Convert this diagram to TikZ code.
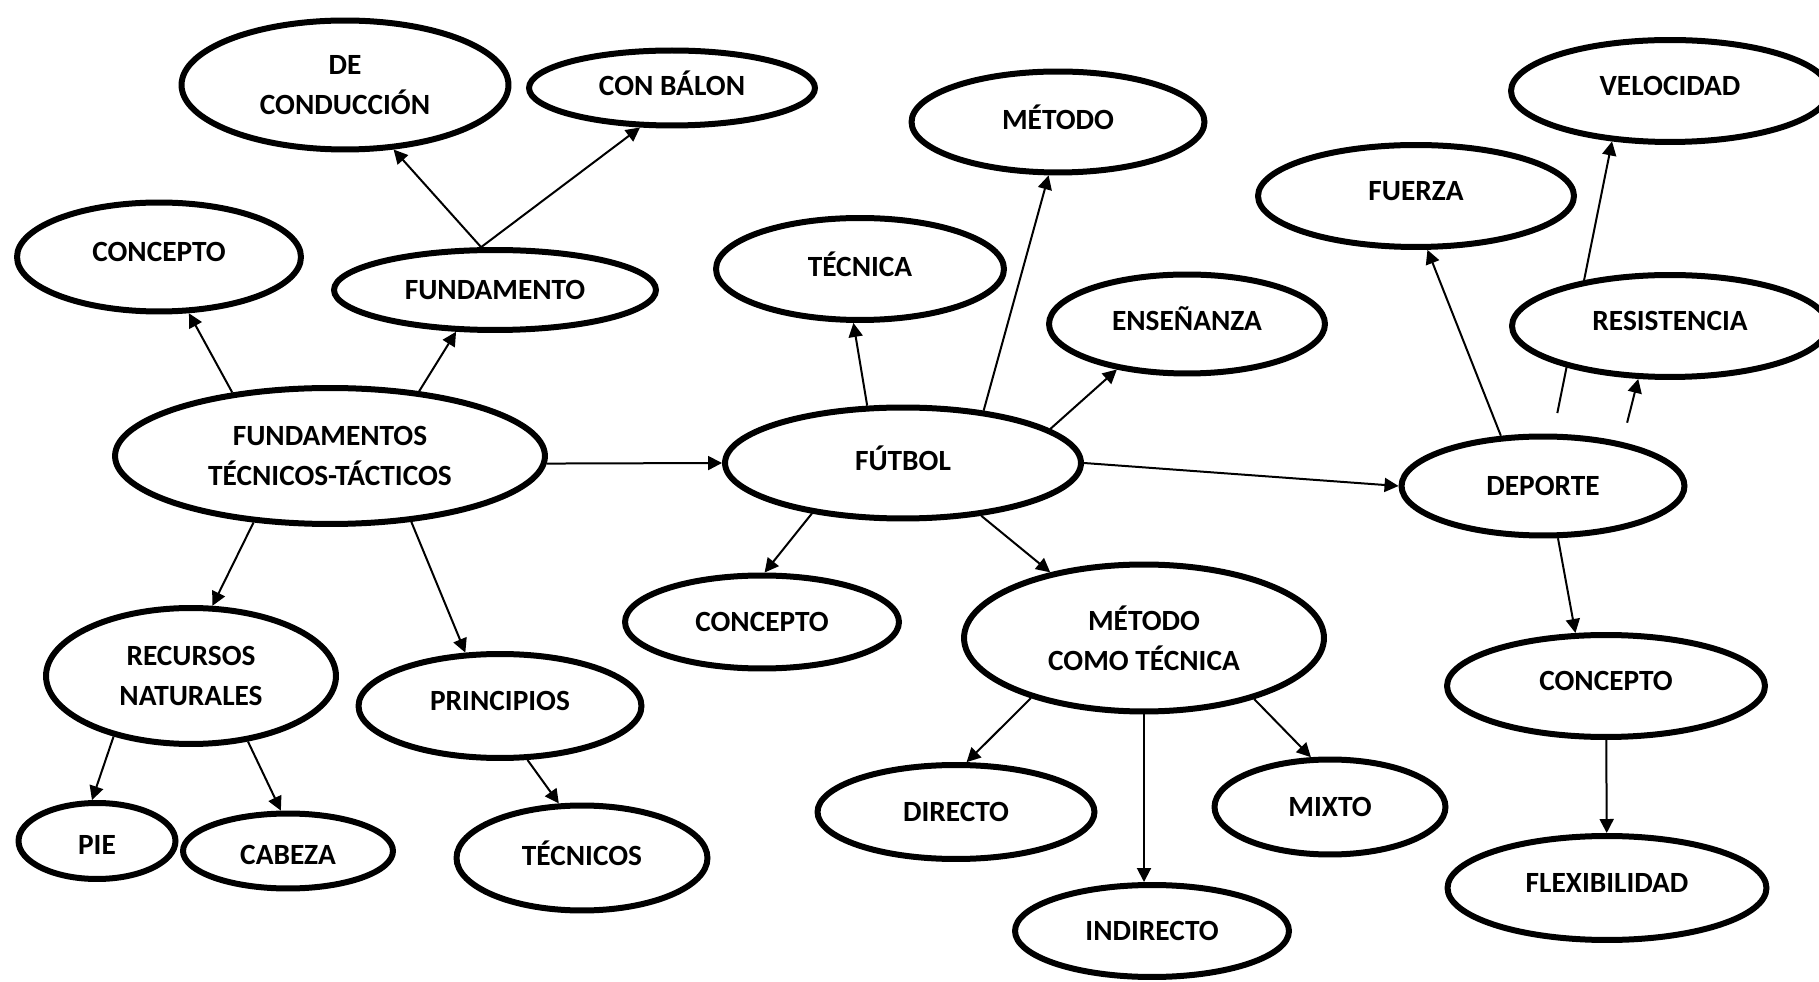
\documentclass[tikz,border=0pt]{standalone}
\usepackage{fontspec}
\setmainfont{Carlito}
\usetikzlibrary{shapes.geometric,arrows.meta,backgrounds}

\begin{document}
\begin{tikzpicture}[x=0.02cm, y=-0.02cm,
      idea/.style={draw, ellipse, fill=white, line width=0.12cm, inner sep=0cm,
        align=center, font=\fontsize{16.7}{22.8}\selectfont\bfseries},
      lift/.style={text depth=0.2cm},
      drop/.style={text height=0.56cm},
      link/.style={-{Triangle[length=0.28cm, width=0.28cm]}, line width=0.04cm}]
      \path[use as bounding box] (0,0) rectangle (1819,982);
      \node[idea, minimum width=6.54cm, minimum height=2.58cm] (Conduccion) at (345,85) {DE\\CONDUCCIÓN};
      \node[idea, lift, minimum width=5.72cm, minimum height=1.5cm] (ConBalon) at (672,88) {CON BÁLON};
      \node[idea, lift, minimum width=5.68cm, minimum height=2.18cm] (ConceptoA) at (159,257) {CONCEPTO};
      \node[idea, minimum width=6.44cm, minimum height=1.6cm] (Fundamento) at (495,290) {FUNDAMENTO};
      \node[idea, minimum width=8.6cm, minimum height=2.72cm] (FTT) at (330,456) {FUNDAMENTOS\\TÉCNICOS-TÁCTICOS};
      \node[idea, minimum width=5.8cm, minimum height=2.72cm] (Recursos) at (191,676) {RECURSOS\\NATURALES};
      \node[idea, lift, minimum width=5.66cm, minimum height=2.08cm] (Principios) at (500,706) {PRINCIPIOS};
      \node[idea, drop, minimum width=3.14cm, minimum height=1.52cm] (Pie) at (97,841) {PIE};
      \node[idea, drop, minimum width=4.2cm, minimum height=1.5cm] (Cabeza) at (288,851) {CABEZA};
      \node[idea, lift, minimum width=5.02cm, minimum height=2.1cm] (Tecnicos) at (582,858) {TÉCNICOS};
      \node[idea, lift, minimum width=5.76cm, minimum height=2.04cm] (Tecnica) at (860,269) {TÉCNICA};
      \node[idea, lift, minimum width=5.86cm, minimum height=2.02cm] (Metodo) at (1058,122) {MÉTODO};
      \node[idea, lift, minimum width=5.52cm, minimum height=1.98cm] (Ensenanza) at (1187,324) {ENSEÑANZA};
      \node[idea, lift, minimum width=7.12cm, minimum height=2.22cm] (Futbol) at (903,463) {FÚTBOL};
      \node[idea, minimum width=5.48cm, minimum height=1.86cm] (ConceptoB) at (762,622) {CONCEPTO};
      \node[idea, minimum width=7.2cm, minimum height=2.94cm] (MCT) at (1144,638) {MÉTODO\\COMO TÉCNICA};
      \node[idea, minimum width=5.54cm, minimum height=1.88cm] (Directo) at (956,812) {DIRECTO};
      \node[idea, minimum width=4.62cm, minimum height=1.9cm] (Mixto) at (1330,807) {MIXTO};
      \node[idea, minimum width=5.48cm, minimum height=1.84cm] (Indirecto) at (1152,931) {INDIRECTO};
      \node[idea, lift, minimum width=6.32cm, minimum height=2.04cm] (Fuerza) at (1416,196) {FUERZA};
      \node[idea, lift, minimum width=6.36cm, minimum height=2.04cm] (Velocidad) at (1670,91) {VELOCIDAD};
      \node[idea, lift, minimum width=6.32cm, minimum height=2.04cm] (Resistencia) at (1670,326) {RESISTENCIA};
      \node[idea, minimum width=5.66cm, minimum height=1.98cm] (Deporte) at (1543,486) {DEPORTE};
      \node[idea, lift, minimum width=6.36cm, minimum height=2.04cm] (ConceptoC) at (1606,686) {CONCEPTO};
      \node[idea, lift, minimum width=6.38cm, minimum height=2.08cm] (Flexibilidad) at (1607,888) {FLEXIBILIDAD};
      \begin{scope}[on background layer]
        \fill[white] (0,0) rectangle (1819,982);
        \draw[link] (FTT.147) -- (ConceptoA.298);
        \draw[link] (FTT.36) -- (Fundamento.227);
        \draw[link] (Fundamento.108) -- (Conduccion.307);
        \draw[link] (Fundamento.108) -- (ConBalon.231);
        \draw[link] (FTT.-2) -- (Futbol.180);
        \draw[link] (FTT.221) -- (Recursos.73);
        \draw[link] (FTT.321) -- (Principios.123);
        \draw[link] (Recursos.218) -- (Pie.97);
        \draw[link] (Recursos.311) -- (Cabeza.100);
        \draw[link] (Principios.297) -- (Tecnicos.113);
        \draw[link] (Futbol.122) -- (Tecnica.263);
        \draw[link] (Futbol.33) -- (Metodo.260);
        \draw[link] (Futbol.13) -- (Ensenanza.213);
        \draw[link] (Futbol.east) -- (Deporte.west);
        \draw[link] (Futbol.209) -- (ConceptoB.87);
        \draw[link] (Futbol.326) -- (MCT.145);
        \draw[link] (MCT.208) -- (Directo.78);
        \draw[link] (MCT.south) -- (MCT.south |- Indirecto.north);
        \draw[link] (MCT.331) -- (Mixto.111);
        \draw[link] (Deporte.130) -- (Fuerza.282);
        \draw[link, shorten <=0.42cm] (Deporte.79) -- (Velocidad.221);
        \draw[link, shorten <=0.4cm] (Deporte.29) -- (Resistencia.239);
        \draw[link] (Deporte.286) -- (ConceptoC.120);
        \draw[link] (ConceptoC) -- (Flexibilidad);
      \end{scope}
\end{tikzpicture}
\end{document}
